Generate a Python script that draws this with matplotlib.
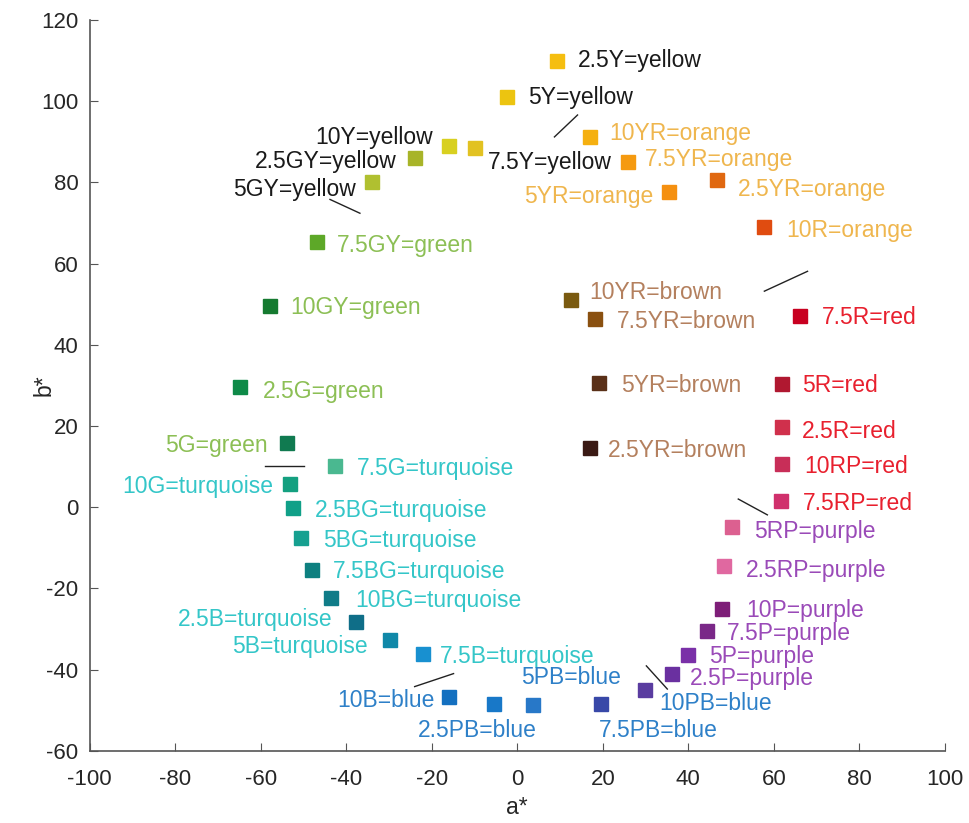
import matplotlib
matplotlib.use("Agg")
import matplotlib.pyplot as plt

# Munsell hue chips plotted in CIELAB a*/b*
hues = ["2.5Y", "5Y", "7.5Y", "10Y", "2.5GY", "5GY", "7.5GY", "10GY",
        "2.5G", "5G", "7.5G", "10G", "2.5BG", "5BG", "7.5BG", "10BG",
        "2.5B", "5B", "7.5B", "10B", "2.5PB", "5PB", "7.5PB", "10PB",
        "2.5P", "5P", "7.5P", "10P", "2.5RP", "5RP", "7.5RP", "10RP",
        "2.5R", "5R", "7.5R", "10R", "2.5YR", "5YR", "7.5YR", "10YR",
        "10YR", "7.5YR", "5YR", "2.5YR"]
names = ["yellow"] * 6 + ["green"] * 4 + ["turquoise"] * 9 + ["blue"] * 5 + \
        ["purple"] * 6 + ["red"] * 5 + ["orange"] * 5 + ["brown"] * 4
a_vals = [9.2, -2.3, -9.8, -16.0, -24.0, -34.0, -46.8, -57.8,
          -64.8, -53.8, -42.6, -53.2, -52.4, -50.6, -48.0, -43.6,
          -37.7, -29.8, -22.1, -16.0, -5.5, 3.6, 19.7, 29.8,
          36.3, 40.0, 44.5, 48.0, 48.4, 50.3, 61.8, 62.0,
          62.0, 62.0, 66.2, 57.6, 46.8, 35.4, 26.0, 16.9,
          12.5, 18.3, 19.2, 16.9]
b_vals = [110.0, 101.0, 88.5, 89.0, 86.1, 80.0, 65.4, 49.6,
          29.5, 15.8, 10.1, 5.7, -0.2, -7.7, -15.4, -22.3,
          -28.2, -32.7, -36.2, -46.8, -48.5, -48.8, -48.5, -45.1,
          -41.0, -36.3, -30.6, -25.0, -14.5, -4.9, 1.5, 10.6,
          19.7, 30.3, 47.0, 68.9, 80.7, 77.7, 85.0, 91.2,
          51.0, 46.3, 30.6, 14.6]
chip_colors = ["#F5BE10", "#ECC410", "#E2C222", "#D8D020", "#A8B428", "#B0C030", "#5DA828", "#157A30",
               "#0E8A48", "#107A50", "#4AB890", "#14A080", "#10A088", "#16A090", "#0E8080", "#107C88",
               "#0F6E88", "#1088A8", "#1890D0", "#1470C0", "#1878C8", "#2878C8", "#3848A8", "#5A3CA0",
               "#6A30A0", "#7A30A8", "#7A2888", "#7E1E78", "#E068A0", "#DC6090", "#D0306C", "#C82E58",
               "#D0304C", "#B01830", "#C80020", "#E04C10", "#E06810", "#F59010", "#F59A10", "#F5B010",
               "#7A5A10", "#8A5010", "#5A3018", "#3A1A14"]

# where each label starts (left edge, vertical centre)
label_a = [14.1, 2.6, -6.9, -47.3, -61.3, -66.4, -42.2, -53.2,
           -59.5, -82.4, -37.5, -92.4, -47.3, -45.4, -43.1, -38.0,
           -79.3, -66.8, -18.2, -42.2, -23.3, 1.0, 19.2, 33.2,
           40.3, 44.9, 49.1, 53.5, 53.5, 55.5, 66.7, 67.2,
           66.5, 66.7, 71.3, 62.9, 51.5, 1.7, 29.8, 21.6,
           16.9, 23.4, 24.4, 21.1]
label_b = [110.0, 100.8, 84.8, 91.0, 85.1, 78.2, 64.5, 49.2,
           28.6, 15.1, 9.4, 5.0, -0.9, -8.3, -15.9, -23.0,
           -27.6, -34.3, -36.8, -47.6, -54.9, -42.0, -54.9, -48.3,
           -42.2, -36.8, -31.1, -25.5, -15.6, -6.1, 0.8, 9.9,
           18.7, 29.9, 46.7, 68.2, 78.2, 76.5, 85.6, 92.0,
           52.9, 45.8, 29.9, 13.9]

text_colors = {
    "yellow": "#1A1A1A",
    "green": "#8CBF55",
    "turquoise": "#34C6C8",
    "blue": "#2E80C8",
    "purple": "#9A4AB8",
    "red": "#E8202E",
    "orange": "#EFB64E",
    "brown": "#B4805E",
}

# short pointer lines between crowded labels
leaders = [
    ((-43.8, -36.8), (75.8, 72.4)),
    ((8.7, 14.1), (91.2, 96.6)),
    ((57.8, 67.9), (53.2, 58.1)),
    ((51.7, 58.5), (2.0, -1.9)),
    ((-59.0, -49.9), (10.1, 10.1)),
    ((-24.0, -14.9), (-44.2, -41.0)),
    ((30.2, 35.1), (-39.1, -44.8)),
]

plt.rcParams["font.family"] = ["Liberation Sans", "DejaVu Sans"]
plt.rcParams["axes.unicode_minus"] = False

fig = plt.figure(figsize=(9.69, 8.23), dpi=100)
ax = fig.add_axes([0.0926, 0.0878, 0.8824, 0.8879])

for a, b, c in zip(a_vals, b_vals, chip_colors):
    ax.plot(a, b, marker="s", ms=10.5, color=c, mec=c, ls="none")

for h, n, x, y in zip(hues, names, label_a, label_b):
    ax.text(x, y, f"{h}={n}", color=text_colors[n], fontsize=16.5,
            ha="left", va="center")

for xs, ys in leaders:
    ax.plot(xs, ys, color="#222222", lw=1)

ax.set_xlim(-100, 100)
ax.set_ylim(-60, 120)
ax.set_xticks(range(-100, 101, 20))
ax.set_yticks(range(-60, 121, 20))
ax.spines["top"].set_visible(False)
ax.spines["right"].set_visible(False)
for s in ("left", "bottom"):
    ax.spines[s].set_color("#555555")
    ax.spines[s].set_linewidth(1.2)
ax.tick_params(direction="in", length=6, colors="#555555", labelcolor="#262626",
               labelsize=16)
ax.tick_params(axis="x", pad=13)
ax.tick_params(axis="y", pad=8)
ax.set_xlabel("a*", fontsize=16.5, color="#262626")
ax.set_ylabel("b*", fontsize=16.5, color="#262626")
ax.xaxis.set_label_coords(0.5, -0.062)
ax.yaxis.set_label_coords(-0.04, 0.5)

fig.savefig("out.png", dpi=100)
